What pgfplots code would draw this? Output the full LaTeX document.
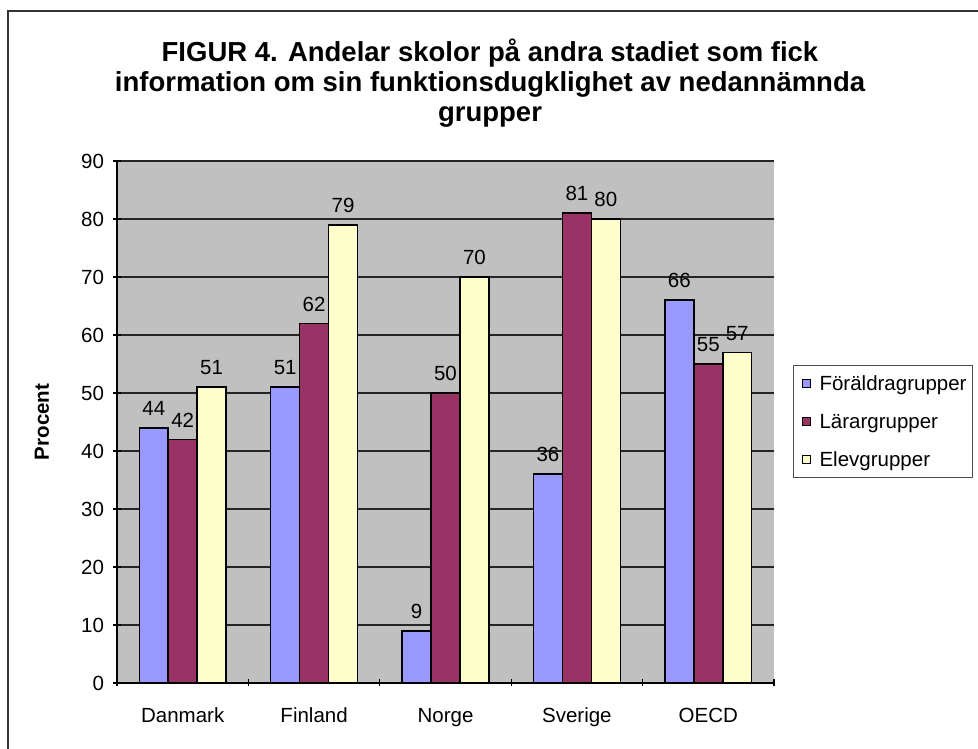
\documentclass[border=0pt]{standalone}
\usepackage{fontspec}
\setmainfont{Liberation Sans}
\usepackage{pgfplots}
\pgfplotsset{compat=1.18}
\definecolor{foraldra}{HTML}{9999FF}
\definecolor{larar}{HTML}{993366}
\definecolor{elev}{HTML}{FFFFCC}
\definecolor{plotbg}{HTML}{C0C0C0}
\newcommand{\chartfont}{\fontsize{20.5}{24}\selectfont}

\begin{document}
\begin{tikzpicture}[x=1pt,y=1pt]
\useasboundingbox (0,0) rectangle (978,749);
\draw[line width=2pt, black!80] (8,-20) -- (8,738) -- (1000,738);
\node[align=center, font=\bfseries\fontsize{27.5}{30}\selectfont] at (490,666)
  {FIGUR 4. Andelar skolor på andra stadiet som fick\\
   information om sin funktionsdugklighet av nedannämnda\\
   grupper};
\coordinate (plotsw) at (117pt,66pt);
\begin{axis}[at={(plotsw)}, anchor=south west, scale only axis,
  width=657pt, height=522pt,
  ybar=0pt, bar width=0.22,
  xmin=-0.5, xmax=4.5, ymin=0, ymax=90,
  ytick={0,10,...,90},
  xtick={0,...,4}, xticklabels={Danmark,Finland,Norge,Sverige,OECD},
  minor xtick={-0.5,0.5,...,4.5},
  major x tick style={draw=none},
  tick align=outside, major tick length=7pt, minor tick length=7pt,
  tick style={black, line width=1.2pt},
  axis lines=left, axis line style={-, black, line width=1.5pt},
  axis background/.style={fill=plotbg},
  ymajorgrids, grid style={black!85, line width=1.2pt},
  /pgf/number format/assume math mode=true,
  tick label style={font=\chartfont},
  xticklabel style={yshift=-18pt},
  yticklabel style={xshift=-6pt},
  every axis y label/.style={at={(axis description cs:-0.1142,0.5)}, rotate=90, anchor=center, font=\bfseries\chartfont},
  ylabel={Procent},
  nodes near coords,
  every node near coord/.append style={font=\chartfont, black, yshift=8pt},
  legend style={at={(axis description cs:1.029,0.609)}, anchor=north west,
    draw=black!70, line width=1pt, font=\chartfont, row sep=18pt,
    inner xsep=4pt, inner ysep=8pt, legend cell align=left},
  legend image code/.code={\path[draw=none, fill=none] (0pt,0pt) -- (20pt,0pt);
    \draw[#1, draw=black, line width=1.2pt] (5pt,-4pt) rectangle (13pt,4pt);},
]
\addplot[fill=foraldra, draw=black, line width=1.5pt] coordinates {(0,44) (1,51) (2,9) (3,36) (4,66)};
\addplot[fill=larar, draw=black, line width=1.5pt] coordinates {(0,42) (1,62) (2,50) (3,81) (4,55)};
\addplot[fill=elev, draw=black, line width=1.5pt] coordinates {(0,51) (1,79) (2,70) (3,80) (4,57)};
\legend{Föräldragrupper,Lärargrupper,Elevgrupper}
\end{axis}
\end{tikzpicture}
\end{document}
